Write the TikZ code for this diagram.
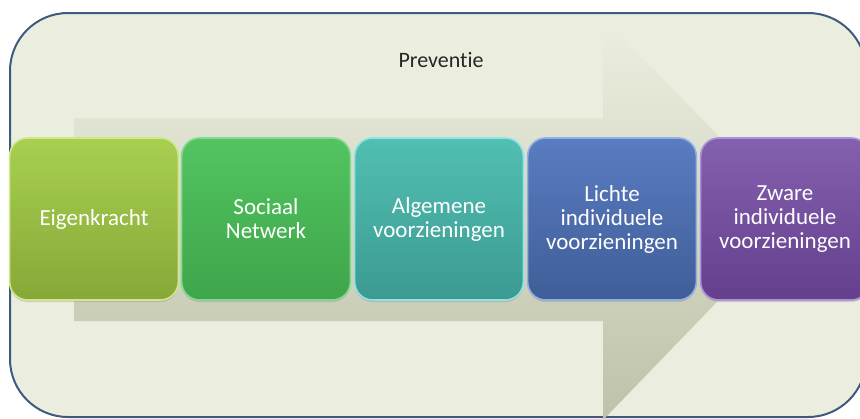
\documentclass[tikz,border=0pt]{standalone}
\usepackage{fontspec}
\setmainfont{Carlito}[Ligatures=NoCommon]
\usetikzlibrary{shadows}

\definecolor{bgfill}{HTML}{EBEEDF}
\definecolor{frameline}{HTML}{3E5A80}
\definecolor{arrowtop}{HTML}{ECEFE0}
\definecolor{arrowbot}{HTML}{BEC2A9}
\definecolor{eigenline}{HTML}{CFE88A}
\definecolor{eigentop}{HTML}{A8CF50}
\definecolor{eigenbot}{HTML}{86A838}
\definecolor{sociaalline}{HTML}{86D890}
\definecolor{sociaaltop}{HTML}{52C460}
\definecolor{sociaalbot}{HTML}{3EA54A}
\definecolor{algline}{HTML}{8FE3E3}
\definecolor{algtop}{HTML}{52BFB3}
\definecolor{algbot}{HTML}{3B9A92}
\definecolor{lichtline}{HTML}{90B0E6}
\definecolor{lichttop}{HTML}{5A7CC0}
\definecolor{lichtbot}{HTML}{3F5D98}
\definecolor{zwaarline}{HTML}{B090D8}
\definecolor{zwaartop}{HTML}{8460B0}
\definecolor{zwaarbot}{HTML}{643F8C}

\tikzset{
  stage/.style={rounded corners=18pt, minimum width=164pt, minimum height=162pt,
    text width=162pt, align=center, text=white, line width=1.6pt,
    font=\fontsize{23}{24}\selectfont,
    drop shadow={shadow xshift=0pt, shadow yshift=-2pt, opacity=0.3}},
}

\begin{document}
\begin{tikzpicture}[x=1pt,y=-1pt]
  \useasboundingbox (0,0) rectangle (860,418);
  \clip (0,0) rectangle (860,418);
  % frame
  \draw[frameline, fill=bgfill, line width=2pt, rounded corners=58pt] (10,13) rectangle (866,417);
  % big arrow
  \shade[top color=arrowtop, bottom color=arrowbot]
    (74,118) -- (603,118) -- (603,17) -- (798,218) -- (603,420) -- (603,321) -- (74,321) -- cycle;
  \node[font=\fontsize{22}{24}\selectfont, text=black!85] (prev) at (441,60) {Preventie};
  \begin{scope}[every node/.style={stage}]
    \node[draw=eigenline, top color=eigentop, bottom color=eigenbot] (eigen) at (94,219) {Eigenkracht};
    \node[draw=sociaalline, top color=sociaaltop, bottom color=sociaalbot] (sociaal) at (266,219) {Sociaal\\Netwerk};
    \node[draw=algline, top color=algtop, bottom color=algbot] (algemeen) at (439,219) {Algemene\\voorzieningen};
    \node[draw=lichtline, top color=lichttop, bottom color=lichtbot] (licht) at (612,219) {Lichte\\individuele\\voorzieningen};
    \node[draw=zwaarline, top color=zwaartop, bottom color=zwaarbot] (zwaar) at (785,219) {Zware\\individuele\\voorzieningen};
  \end{scope}
\end{tikzpicture}
\end{document}
